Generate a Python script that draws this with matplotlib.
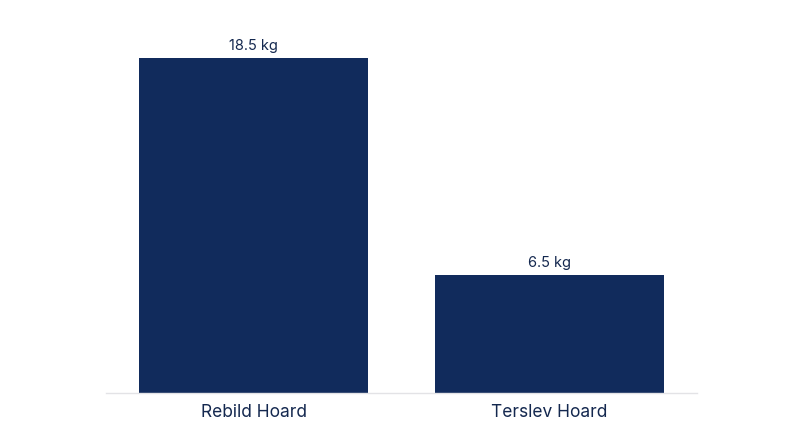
import matplotlib.pyplot as plt

# data
hoards = ["Rebild Hoard", "Terslev Hoard"]
weights = [18.5, 6.5]
labels = ["18.5 kg", "6.5 kg"]

bar_color = "#112b5c"
text_color = "#14284f"

plt.rcParams['font.family'] = ['Inter', 'DejaVu Sans']

fig = plt.figure(figsize=(8, 4.47), dpi=100)
ax = fig.add_axes([0.1325, 0.1208, 0.73875, 0.8098])

x = range(len(hoards))
bars = ax.bar(x, weights, width=0.776, color=bar_color)

for b, lab in zip(bars, labels):
    ax.annotate(lab, (b.get_x() + b.get_width() / 2, b.get_height()),
                xytext=(0, 4), textcoords="offset points",
                ha="center", va="bottom", fontsize=10.5, color=text_color)

ax.set_xlim(-0.5, 1.5)
ax.set_ylim(0, 20)
ax.set_xticks(list(x))
ax.set_xticklabels(hoards, fontsize=12.5, color=text_color)
ax.tick_params(axis="x", length=0, pad=8)
ax.set_yticks([])

for side in ["top", "right", "left"]:
    ax.spines[side].set_visible(False)
ax.spines["bottom"].set_color("#e3e3e6")
ax.spines["bottom"].set_linewidth(1)

fig.savefig("out.png", dpi=100)
